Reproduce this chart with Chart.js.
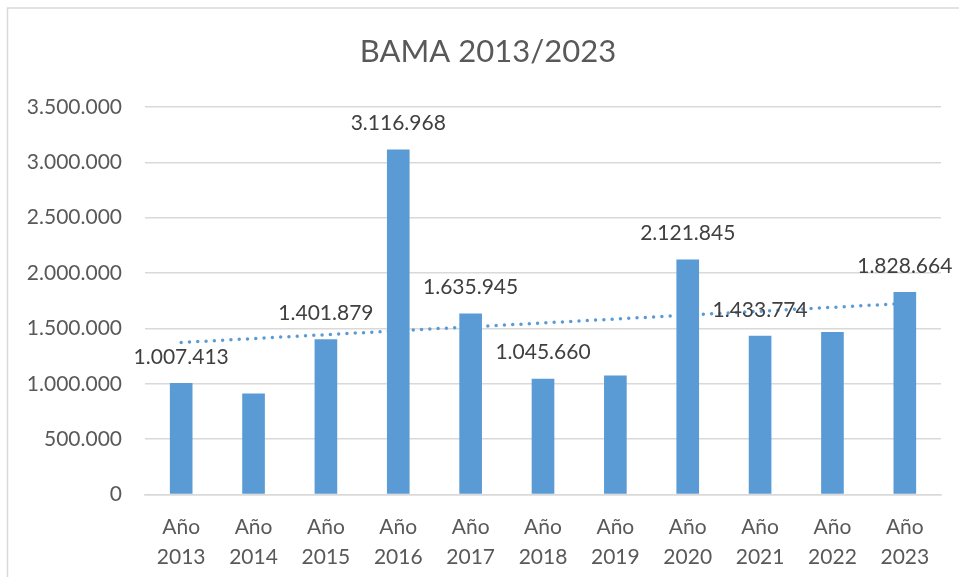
<!DOCTYPE html>
<html>
<head>
<meta charset="utf-8">
<script src="https://cdn.jsdelivr.net/npm/chart.js@4"></script>
<style>
  html, body { margin: 0; padding: 0; background: #ffffff; }
  #wrap { width: 959px; height: 577px; position: relative; }
</style>
</head>
<body>
<div id="wrap"><canvas id="c" width="959" height="577"></canvas></div>
<script>
// ---- data ----
const chartTitle = 'BAMA 2013/2023';
const categories = [
  ['Año', '2013'], ['Año', '2014'], ['Año', '2015'], ['Año', '2016'],
  ['Año', '2017'], ['Año', '2018'], ['Año', '2019'], ['Año', '2020'],
  ['Año', '2021'], ['Año', '2022'], ['Año', '2023']
];
const values = [1007413, 912000, 1401879, 3116968, 1635945, 1045660, 1075000, 2121845, 1433774, 1467000, 1828664];
const showValueLabel = [true, false, true, true, true, true, false, true, true, false, true];
// linear trendline end points (first and last category)
const trendEnds = [1373000, 1726000];
const yTicks = { min: 0, max: 3500000, step: 500000 };

// ---- helpers ----
function fmt(v) {
  return String(Math.round(v)).replace(/\B(?=(\d{3})+(?!\d))/g, '.');
}
const trendData = categories.map((_, i) =>
  i === 0 ? trendEnds[0] : (i === categories.length - 1 ? trendEnds[1] : null));

const FONT = 'Lato, "Open Sans", sans-serif';
const BLUE = '#5B9BD5';

const frameAndTitle = {
  id: 'frameAndTitle',
  beforeDraw(chart) {
    const ctx = chart.ctx;
    ctx.save();
    ctx.fillStyle = '#ffffff';
    ctx.fillRect(0, 0, chart.width, chart.height);
    ctx.strokeStyle = '#D9D9D9';
    ctx.lineWidth = 1.5;
    ctx.strokeRect(7.5, 8, chart.width + 10, chart.height + 10);
    ctx.fillStyle = '#595959';
    ctx.font = '31px ' + FONT;
    ctx.textAlign = 'center';
    ctx.textBaseline = 'middle';
    ctx.fillText(chartTitle, 488, 52);
    ctx.restore();
  }
};

const valueLabels = {
  id: 'valueLabels',
  afterDatasetsDraw(chart) {
    const ctx = chart.ctx;
    const meta = chart.getDatasetMeta(0);
    ctx.save();
    ctx.fillStyle = '#404040';
    ctx.font = '21px ' + FONT;
    ctx.textAlign = 'center';
    ctx.textBaseline = 'middle';
    meta.data.forEach((bar, i) => {
      if (!showValueLabel[i]) return;
      ctx.fillText(fmt(values[i]), bar.x, bar.y - 26);
    });
    ctx.restore();
  }
};

new Chart(document.getElementById('c'), {
  data: {
    labels: categories,
    datasets: [
      {
        type: 'bar',
        data: values,
        backgroundColor: BLUE,
        borderWidth: 0,
        barPercentage: 0.313,
        categoryPercentage: 1,
        order: 1
      },
      {
        type: 'line',
        data: trendData,
        spanGaps: true,
        borderColor: BLUE,
        borderWidth: 3.5,
        borderDash: [0, 8.3],
        borderCapStyle: 'round',
        pointRadius: 0,
        fill: false,
        order: 2
      }
    ]
  },
  options: {
    responsive: false,
    animation: false,
    devicePixelRatio: 1,
    layout: { padding: { top: 107, right: 18, bottom: 0, left: 0 } },
    plugins: {
      legend: { display: false },
      title: { display: false },
      tooltip: { enabled: false }
    },
    scales: {
      x: {
        grid: { display: false, drawTicks: false },
        border: { display: true, color: '#D9D9D9', width: 1.5 },
        ticks: {
          color: '#595959',
          font: { family: FONT, size: 21, lineHeight: 30 / 21 },
          padding: 17.5,
          maxRotation: 0,
          autoSkip: false
        },
        afterFit(scale) { scale.height = 82.5; }
      },
      y: {
        min: yTicks.min,
        max: yTicks.max,
        grid: { color: '#D9D9D9', lineWidth: 1.5, drawTicks: false },
        border: { display: false },
        ticks: {
          stepSize: yTicks.step,
          color: '#595959',
          font: { family: FONT, size: 21 },
          padding: 23,
          callback: (v) => fmt(v)
        },
        afterFit(scale) { scale.width = 145; }
      }
    }
  },
  plugins: [frameAndTitle, valueLabels]
});
</script>
</body>
</html>
